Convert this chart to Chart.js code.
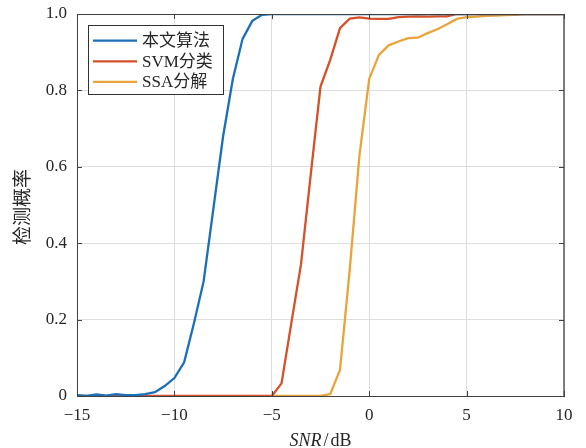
<!DOCTYPE html>
<html>
<head>
<meta charset="utf-8">
<script src="https://cdn.jsdelivr.net/npm/chart.js@4/dist/chart.umd.min.js"></script>
<style>
  html, body { margin: 0; padding: 0; background: #ffffff; }
  #wrap { width: 586px; height: 448px; position: relative; }
</style>
</head>
<body>
<div id="wrap"><canvas id="c" width="586" height="448"></canvas></div>
<script>
// SNR values in dB (0.5 dB steps)
const snr = [
  -15, -14.5, -14, -13.5, -13, -12.5, -12, -11.5, -11, -10.5,
  -10, -9.5, -9, -8.5, -8, -7.5, -7, -6.5, -6, -5.5,
  -5, -4.5, -4, -3.5, -3, -2.5, -2, -1.5, -1, -0.5,
  0, 0.5, 1, 1.5, 2, 2.5, 3, 3.5, 4, 4.5,
  5, 5.5, 6, 6.5, 7, 7.5, 8, 8.5, 9, 9.5, 10
];

// detection probability of the proposed method
const proposed = [
  0.002, 0.000, 0.004, 0.001, 0.005, 0.002, 0.002, 0.005, 0.010, 0.026,
  0.047, 0.088, 0.190, 0.300, 0.490, 0.680, 0.830, 0.935, 0.982, 0.998,
  1, 1, 1, 1, 1, 1, 1, 1, 1, 1,
  1, 1, 1, 1, 1, 1, 1, 1, 1, 1,
  1, 1, 1, 1, 1, 1, 1, 1, 1, 1, 1
];

// detection probability of SVM classification
const svm = [
  0, 0, 0, 0, 0, 0, 0, 0, 0, 0,
  0, 0, 0, 0, 0, 0, 0, 0, 0, 0,
  0, 0.033, 0.190, 0.345, 0.580, 0.810, 0.880, 0.963, 0.988, 0.991,
  0.988, 0.987, 0.987, 0.992, 0.993, 0.994, 0.993, 0.994, 0.994, 1,
  1, 1, 1, 1, 1, 1, 1, 1, 1, 1, 1
];

// detection probability of SSA decomposition (evaluated from -5 dB)
const ssa = [
  null, null, null, null, null, null, null, null, null, null,
  null, null, null, null, null, null, null, null, null, null,
  0, 0, 0, 0, 0, 0, 0.005, 0.068, 0.330, 0.630,
  0.830, 0.893, 0.918, 0.928, 0.937, 0.938, 0.950, 0.960, 0.973, 0.987,
  0.992, 0.993, 0.995, 0.996, 0.997, 0.998, 1, 1, 1, 1, 1
];

const seriesNames = ['本文算法', 'SVM分类', 'SSA分解'];
const seriesColors = ['#1b6fb9', '#d4512a', '#e8a43a'];
const xTickValues = [-15, -10, -5, 0, 5, 10];
const yTickValues = [0, 0.2, 0.4, 0.6, 0.8, 1.0];

const serif = "'Liberation Serif', 'Times New Roman', serif";
const cjk = "'Liberation Serif', 'Noto Sans CJK SC', serif";
const axisColor = '#404040';
const textColor = '#262626';

function toPoints(values) {
  return snr.map((x, i) => ({ x: x, y: values[i] }));
}

// box, inward tick marks, axis titles and legend drawn on top of the plot
const framePlugin = {
  id: 'frame',
  afterDraw(chart) {
    const ctx = chart.ctx;
    const a = chart.chartArea;
    const xs = chart.scales.x, ys = chart.scales.y;
    ctx.save();
    // top and right edges of the box
    ctx.strokeStyle = axisColor;
    ctx.lineWidth = 1;
    ctx.beginPath();
    ctx.moveTo(a.left, a.top + 0.5);
    ctx.lineTo(a.right, a.top + 0.5);
    ctx.stroke();
    ctx.strokeStyle = '#606060';
    ctx.lineWidth = 1.6;
    ctx.beginPath();
    ctx.moveTo(a.right, a.top);
    ctx.lineTo(a.right, a.bottom);
    ctx.stroke();
    // inward ticks
    ctx.strokeStyle = axisColor;
    ctx.lineWidth = 1;
    const tl = 5;
    ctx.beginPath();
    xTickValues.forEach(v => {
      const px = Math.round(xs.getPixelForValue(v)) + 0.5;
      ctx.moveTo(px, a.bottom); ctx.lineTo(px, a.bottom - tl);
      ctx.moveTo(px, a.top); ctx.lineTo(px, a.top + tl);
    });
    yTickValues.forEach(v => {
      const py = Math.round(ys.getPixelForValue(v)) + 0.5;
      ctx.moveTo(a.left, py); ctx.lineTo(a.left + tl, py);
      ctx.moveTo(a.right, py); ctx.lineTo(a.right - tl, py);
    });
    ctx.stroke();

    // x axis title: SNR / dB
    ctx.fillStyle = textColor;
    ctx.textBaseline = 'alphabetic';
    ctx.textAlign = 'left';
    const italicFont = 'italic 18px ' + serif;
    const uprightFont = '18px ' + serif;
    ctx.font = italicFont;
    const w1 = ctx.measureText('SNR').width;
    ctx.font = uprightFont;
    const w2 = ctx.measureText('/').width;
    const w3 = ctx.measureText('dB').width;
    const gap = 2;
    const total = w1 + gap + w2 + gap + w3;
    let x0 = (a.left + a.right) / 2 - total / 2;
    const base = 446;
    ctx.font = italicFont;
    ctx.fillText('SNR', x0, base);
    x0 += w1 + gap;
    ctx.font = uprightFont;
    ctx.fillText('/', x0, base);
    x0 += w2 + gap;
    ctx.fillText('dB', x0, base);

    // y axis title
    ctx.save();
    ctx.translate(22, 207);
    ctx.rotate(-Math.PI / 2);
    ctx.textAlign = 'center';
    ctx.textBaseline = 'middle';
    ctx.font = "19px 'Noto Sans CJK SC', sans-serif";
    ctx.fillText('检测概率', 0, 0);
    ctx.restore();

    // legend box
    const lx = 88, ly = 25, lw = 135, lh = 69;
    ctx.fillStyle = '#ffffff';
    ctx.fillRect(lx, ly, lw, lh);
    ctx.strokeStyle = '#303030';
    ctx.lineWidth = 1;
    ctx.strokeRect(lx + 0.5, ly + 0.5, lw, lh);
    chart.data.datasets.forEach((ds, i) => {
      const yy = ly + 15.7 + i * 20.6;
      ctx.strokeStyle = ds.borderColor;
      ctx.lineWidth = 2.3;
      ctx.beginPath();
      ctx.moveTo(93, yy);
      ctx.lineTo(137, yy);
      ctx.stroke();
      ctx.fillStyle = textColor;
      ctx.font = '17px ' + cjk;
      ctx.textAlign = 'left';
      ctx.textBaseline = 'middle';
      ctx.fillText(ds.label, 142, yy + 1);
    });
    ctx.restore();
  }
};

new Chart(document.getElementById('c'), {
  type: 'line',
  data: {
    datasets: [
      { label: seriesNames[0], data: toPoints(proposed), borderColor: seriesColors[0] },
      { label: seriesNames[1], data: toPoints(svm), borderColor: seriesColors[1] },
      { label: seriesNames[2], data: toPoints(ssa), borderColor: seriesColors[2] }
    ].map(d => Object.assign(d, {
      borderWidth: 2.3,
      pointRadius: 0,
      tension: 0,
      fill: false,
      spanGaps: false
    }))
  },
  options: {
    responsive: false,
    animation: false,
    devicePixelRatio: 1,
    layout: { padding: { top: 14, right: 22, left: 0, bottom: 0 } },
    plugins: { legend: { display: false }, tooltip: { enabled: false } },
    scales: {
      x: {
        type: 'linear',
        min: -15, max: 10,
        afterFit(s) { s.height = 52; s.paddingLeft = 0; s.paddingRight = 0; },
        afterBuildTicks(s) { s.ticks = xTickValues.map(v => ({ value: v })); },
        grid: { color: '#dedede', lineWidth: 1, drawTicks: false },
        border: { display: true, color: axisColor, width: 1 },
        ticks: {
          padding: 9,
          color: textColor,
          font: { family: serif, size: 17 },
          maxRotation: 0,
          callback: v => (v < 0 ? '\u2212' + Math.abs(v) : String(v))
        }
      },
      y: {
        type: 'linear',
        min: 0, max: 1,
        afterFit(s) { s.width = 77; s.paddingTop = 0; s.paddingBottom = 0; },
        afterBuildTicks(s) { s.ticks = yTickValues.map(v => ({ value: v })); },
        grid: { color: '#dedede', lineWidth: 1, drawTicks: false },
        border: { display: true, color: axisColor, width: 1 },
        ticks: {
          padding: 10,
          color: textColor,
          font: { family: serif, size: 17 },
          callback: v => (v === 0 ? '0' : v.toFixed(1))
        }
      }
    }
  },
  plugins: [framePlugin]
});
</script>
</body>
</html>
